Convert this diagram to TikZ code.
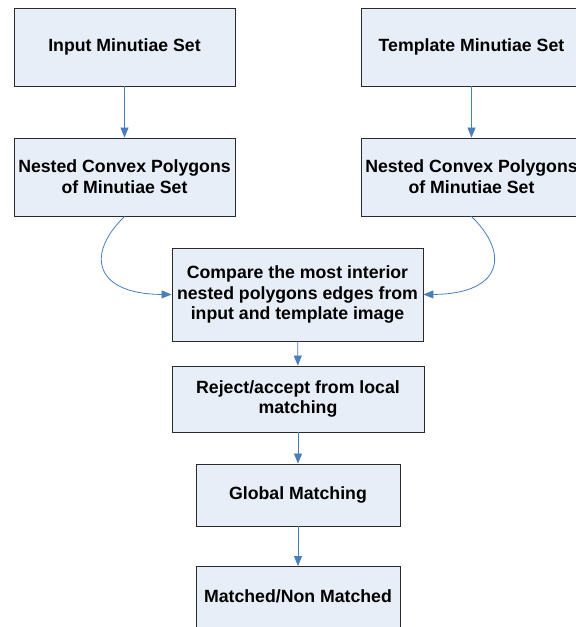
\documentclass[tikz,border=0pt]{standalone}
\usepackage{fontspec}
\setmainfont{Liberation Sans}
\usetikzlibrary{arrows.meta}
\definecolor{boxfill}{HTML}{E8EEF8}
\definecolor{boxline}{HTML}{2A2A2A}
\definecolor{flow}{HTML}{4A7EBB}
\tikzset{
  stagefont/.style={font=\fontsize{17.7}{20.8}\selectfont\bfseries},
  stage/.style={draw=boxline, line width=0.9pt, fill=boxfill, align=center,
    stagefont, inner sep=0pt},
  flowarrow/.style={draw=flow, line width=0.8pt,
    -{Triangle[width=8pt,length=10pt]}}
}
\begin{document}
\begin{tikzpicture}[x=1pt,y=-1pt]
\useasboundingbox (0,0) rectangle (576,627);
\clip (0,0) rectangle (576,627);
\node[stage, minimum width=221pt, minimum height=78pt] (inset) at (124.5,47) {Input Minutiae Set};
\node[stage, minimum width=221pt, minimum height=78pt] (inpoly) at (124.5,177) {Nested Convex Polygons\\of Minutiae Set};
\node[stage, minimum width=221pt, minimum height=78pt] (tmset) at (471.5,47) {Template Minutiae Set};
\node[stage, minimum width=221pt, minimum height=78pt] (tmpoly) at (471.5,177) {Nested Convex Polygons\\of Minutiae Set};
\node[stage, minimum width=251pt, minimum height=93pt] (compare) at (297.5,294.5) {Compare the most interior\\nested polygons edges from\\input and template image};
\node[stage, minimum width=252pt, minimum height=66pt] (local) at (298,399) {Reject/accept from local\\matching};
\node[stage, minimum width=204pt, minimum height=62pt] (global) at (298,495) {Global Matching};
\node[stage, minimum width=204pt, minimum height=62pt, anchor=north] (result) at (298,566) {};
\node[stagefont] (resulttext) at (298,596) {Matched/Non Matched};

\draw[flowarrow] (inset) -- (inpoly);
\draw[flowarrow] (tmset) -- (tmpoly);
\draw[flowarrow] (inpoly.south) .. controls (85,255) and (95,294) .. (compare.west);
\draw[flowarrow] (tmpoly.south) .. controls (511,255) and (501,294) .. (compare.east);
\draw[flowarrow] (compare) -- (local);
\draw[flowarrow] (local) -- (global);
\draw[flowarrow] (global) -- (result);
\end{tikzpicture}
\end{document}
